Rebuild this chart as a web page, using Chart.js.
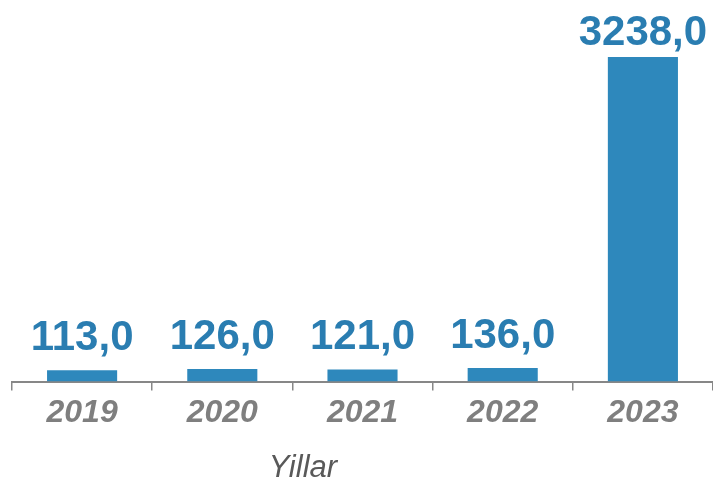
<!DOCTYPE html>
<html>
<head>
<meta charset="utf-8">
<script src="https://cdn.jsdelivr.net/npm/chart.js@4.4.0/dist/chart.umd.min.js"></script>
<style>
html,body{margin:0;padding:0;background:#fff;}
#wrap{width:713px;height:477px;position:relative;}
</style>
</head>
<body>
<div id="wrap"><canvas id="c"></canvas></div>
<script>
const categories = ["2019", "2020", "2021", "2022", "2023"];
const values = [113.0, 126.0, 121.0, 136.0, 3238.0];
const axisTitle = "Yillar";

const barColor = "#2E88BC";
const labelColor = "#2A7DB1";

const valueLabels = {
  id: 'valueLabels',
  afterDatasetsDraw(chart) {
    const ctx = chart.ctx;
    const meta = chart.getDatasetMeta(0);
    ctx.save();
    ctx.font = 'bold 42px "Liberation Sans", Arial, sans-serif';
    ctx.fillStyle = labelColor;
    ctx.textAlign = 'center';
    ctx.textBaseline = 'alphabetic';
    meta.data.forEach((bar, i) => {
      const y = Math.max(45, bar.y - 20);
      ctx.fillText(values[i].toFixed(1).replace('.', ','), bar.x, y);
    });
    ctx.restore();
  }
};

const axisTitlePlugin = {
  id: 'axisTitlePlugin',
  afterDraw(chart) {
    const ctx = chart.ctx;
    const a = chart.chartArea;
    ctx.save();
    ctx.font = 'italic 31px "Liberation Sans", Arial, sans-serif';
    ctx.fillStyle = '#595959';
    ctx.textAlign = 'center';
    ctx.textBaseline = 'alphabetic';
    ctx.fillText(axisTitle, a.left + (a.right - a.left) * 0.415, 477);
    ctx.restore();
  }
};

new Chart(document.getElementById('c'), {
  type: 'bar',
  data: {
    labels: categories,
    datasets: [{
      data: values,
      backgroundColor: barColor,
      borderWidth: 0,
      barPercentage: 0.5,
      categoryPercentage: 1.0
    }]
  },
  options: {
    responsive: true,
    maintainAspectRatio: false,
    animation: false,
    layout: { padding: { left: 12, right: 0, top: 0, bottom: 42 } },
    plugins: { legend: { display: false }, tooltip: { enabled: false } },
    scales: {
      x: {
        offset: true,
        grid: {
          display: true,
          offset: true,
          drawOnChartArea: false,
          drawTicks: true,
          tickLength: 9,
          color: '#878787',
          lineWidth: 1.5
        },
        border: { display: true, color: '#878787', width: 2 },
        ticks: {
          color: '#7F7F7F',
          padding: 3,
          font: { family: '"Liberation Sans", Arial, sans-serif', size: 32, style: 'italic', weight: 'bold' }
        }
      },
      y: {
        display: false,
        min: 0,
        max: 3806
      }
    }
  },
  plugins: [valueLabels, axisTitlePlugin]
});
</script>
</body>
</html>
